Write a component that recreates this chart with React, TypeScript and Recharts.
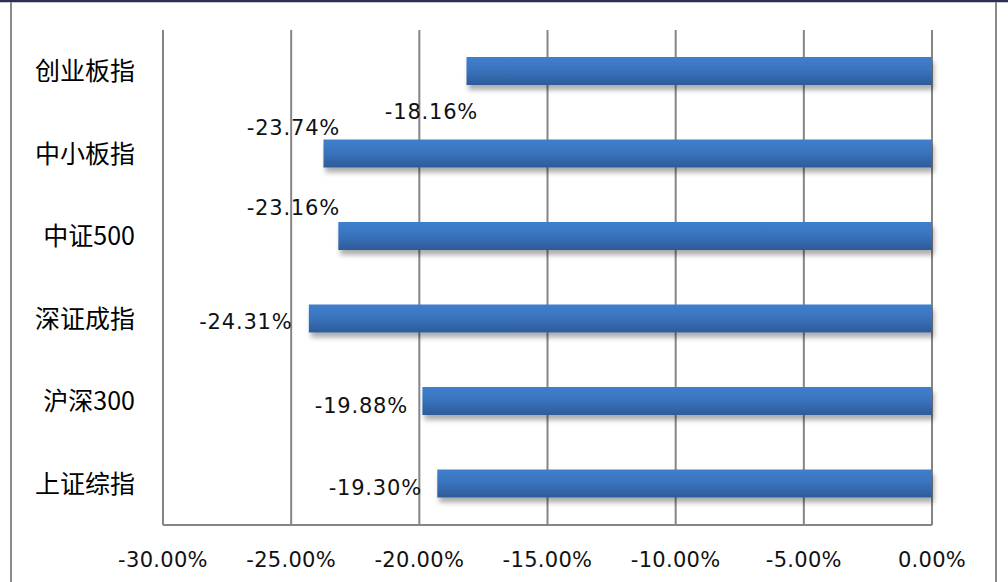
import { BarChart, Bar, XAxis, YAxis, CartesianGrid, LabelList } from "recharts"

const categories = ["创业板指", "中小板指", "中证500", "深证成指", "沪深300", "上证综指"]
const changes = [-18.16, -23.74, -23.16, -24.31, -19.88, -19.30]
const xTicks = [-30, -25, -20, -15, -10, -5, 0]

const data = categories.map((name, i) => ({ name, value: changes[i] }))

// where Excel dropped each data label relative to the bar's left end
const labelNudge = [
  { dx: -35, dy: 41 },
  { dx: -30, dy: -26 },
  { dx: -45, dy: -28 },
  { dx: -63, dy: 3 },
  { dx: -61, dy: 5 },
  { dx: -62, dy: 4 },
]

const pct = (v: number) => `${v.toFixed(2)}%`
const numFont = "DejaVu Sans, Tahoma, sans-serif"

function BarLabel(props: any) {
  const { x, y, width, height, value, index } = props
  const left = Math.min(Number(x), Number(x) + Number(width))
  const cy = Number(y) + Number(height) / 2
  const n = labelNudge[index] || { dx: -60, dy: 0 }
  return (
    <text
      x={left + n.dx}
      y={cy + n.dy}
      textAnchor="middle"
      dominantBaseline="central"
      fontSize={21}
      letterSpacing={0.8}
      fontFamily={numFont}
      fill="#111"
    >
      {pct(Number(value))}
    </text>
  )
}

export default function App() {
  return (
    <div style={{ position: "absolute", left: 0, top: 0, width: 1008, height: 582, background: "#fff", overflow: "hidden" }}>
      {/* outer frame */}
      <div style={{ position: "absolute", left: 0, top: 0, width: 1008, height: 2, background: "#2c2f5e" }} />
      <div style={{ position: "absolute", left: 0, top: 2, width: 1008, height: 1, background: "#c8c8c8" }} />
      <div style={{ position: "absolute", left: 10, top: 2, width: 2, height: 580, background: "#8a8a8a" }} />
      <div style={{ position: "absolute", left: 995, top: 2, width: 2, height: 580, background: "#8a8a8a" }} />

      <div style={{ position: "absolute", left: 0, top: 0 }}>
        <BarChart
          width={1008}
          height={582}
          data={data}
          layout="vertical"
          margin={{ top: 30, right: 76, bottom: 0, left: 0 }}
        >
          <defs>
            <linearGradient id="barFill" x1="0" y1="0" x2="0" y2="1">
              <stop offset="0%" stopColor="#3f7fcd" />
              <stop offset="45%" stopColor="#3a74bf" />
              <stop offset="100%" stopColor="#2d5b98" />
            </linearGradient>
            <filter id="barShadow" x="-5%" y="-20%" width="110%" height="170%">
              <feDropShadow dx="2" dy="5" stdDeviation="2.5" floodColor="#000" floodOpacity="0.32" />
            </filter>
          </defs>
          <CartesianGrid horizontal={false} stroke="#858585" strokeWidth={2} />
          <XAxis
            type="number"
            domain={[-30, 0]}
            ticks={xTicks}
            tickFormatter={pct}
            interval={0}
            height={57}
            axisLine={{ stroke: "#858585", strokeWidth: 2 }}
            tickLine={false}
            tickSize={0}
            tickMargin={27}
            tick={{ fill: "#111", fontSize: 21, letterSpacing: 0.3, fontFamily: numFont }}
          />
          <YAxis
            type="category"
            dataKey="name"
            width={163}
            axisLine={false}
            tickLine={false}
            tickSize={0}
            tickMargin={28}
            tick={{ fill: "#000", fontSize: 25, fontFamily: "Noto Sans CJK SC, sans-serif" }}
          />
          <Bar
            dataKey="value"
            barSize={28}
            fill="url(#barFill)"
            filter="url(#barShadow)"
            isAnimationActive={false}
          >
            <LabelList dataKey="value" content={BarLabel} />
          </Bar>
        </BarChart>
      </div>
    </div>
  )
}
